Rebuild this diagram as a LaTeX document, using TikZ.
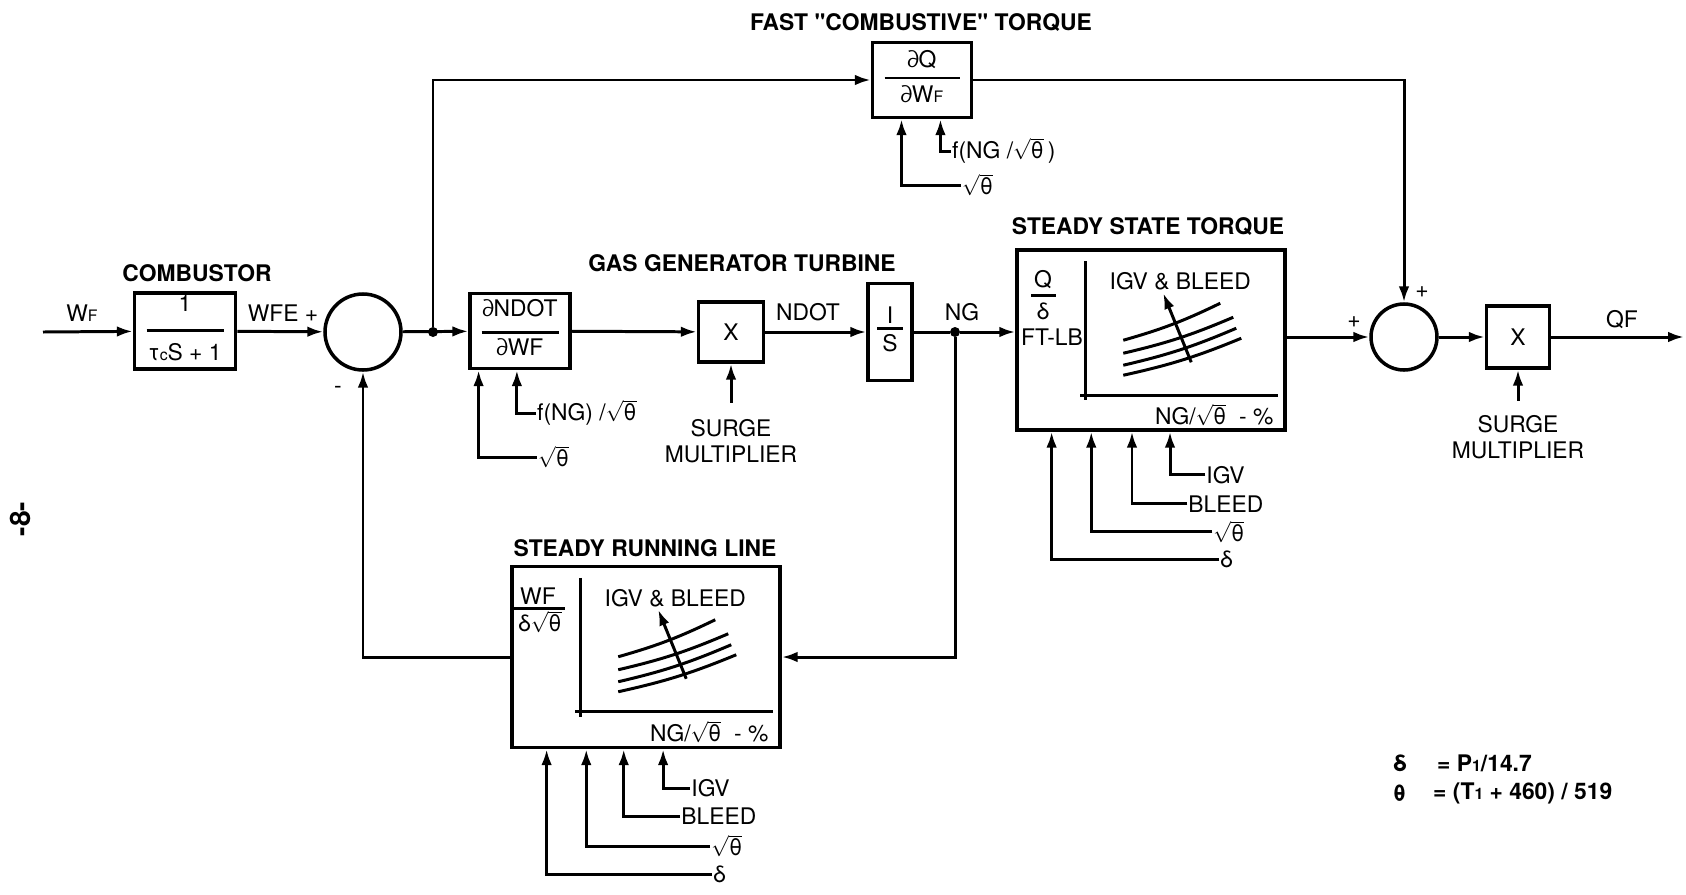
\documentclass[tikz,border=0pt]{standalone}
\usepackage{fontspec}
\setmainfont{TeX Gyre Heros}[Ligatures=TeXOff]
\usetikzlibrary{arrows.meta,calc}
\newcommand\sqth{$\sqrt{\mbox{θ}}$}
\newcommand\sub[1]{{\fontsize{9}{9}\selectfont #1}}
\newcommand\blkfrac[5]{{\setlength\arrayrulewidth{1.4pt}%
  \begin{tabular}{@{}c@{}}\makebox[#1]{#4}\\[#2]\hline\noalign{\vskip #3}#5\end{tabular}}}
\tikzset{
  block/.style={
    draw,
    line width=2pt,
    inner sep=0pt
  },
  sumpoint/.style={
    draw,
    shape = circle,
    line width=2pt,
    inner sep=0pt
  },
  heading/.style={
    font=\fontsize{13}{14.5}\selectfont\bfseries
  },
  flow/.style={
    line width=1.7pt,
    -{Latex[length=9pt,width=6pt]}
  },
  wire/.style={
    line width=1.7pt
  },
  dot/.style={
    shape = circle,
    fill,
    inner sep=0pt,
    minimum size=2mm
  },
  inlabel/.style={
    anchor=west,
    inner sep=0.5pt
  },
  every picture/.style = {
    font=\fontsize{13}{14.5}\selectfont
  }
}
\begin{document}
\begin{tikzpicture}[x=0.2mm,y=-0.2mm]
    \useasboundingbox (0,0) rectangle (1686,894);
    % titles
    \node[heading] (combt) at (197,273) {COMBUSTOR};
    \node[heading] (ggt) at (742,263) {GAS GENERATOR TURBINE};
    \node[heading] (fastt) at (921,23) {FAST "COMBUSTIVE" TORQUE};
    \node[heading] (sstt) at (1148,227) {STEADY STATE TORQUE};
    \node[heading] (srlt) at (645,548) {STEADY RUNNING LINE};
    % forward path
    \coordinate (wf) at (43,332);
    \node[block,minimum width=20.2mm,minimum height=15.2mm] (comb) at (185,331)
        {\blkfrac{15.4mm}{5.7pt}{6.5pt}{1}{τ\sub{c}S + 1}};
    \node[sumpoint,minimum size=15.2mm] (sum1) at (363,332) {};
    \node[dot] (j1) at (433,332) {};
    \node[block,minimum width=20mm,minimum height=15mm] (ndot) at (520,331)
        {\blkfrac{15.4mm}{4pt}{2.5pt}{∂NDOT}{∂WF}};
    \node[block,minimum width=13mm,minimum height=12mm] (mul1) at (731,332) {X};
    \node[block,minimum width=8.8mm,minimum height=19.4mm] (integ) at (890,332)
        {\blkfrac{5.2mm}{-2pt}{2pt}{I}{S}};
    \node[dot] (ng) at (955,332) {};
    \node[block,minimum width=53.6mm,minimum height=36mm] (sst) at (1151,340) {};
    \node[sumpoint,minimum size=13.2mm] (sum2) at (1404,337) {};
    \node[block,minimum width=12.6mm,minimum height=12.4mm] (mul2) at (1518,337) {X};
    \coordinate (qf) at (1684,337);
    \node[block,minimum width=19.8mm,minimum height=15mm] (dq) at (922,80)
        {\blkfrac{15mm}{0.7pt}{3pt}{∂Q}{∂W\sub{F}}};
    \node[block,minimum width=53.6mm,minimum height=36.2mm] (srl) at (646,657) {};
    % signal labels
    \node (wflbl) at (82,313) {W\sub{F}};
    \node (wfelbl) at (283,313) {WFE +};
    \node (minus) at (338,390) {-};
    \node (ndotlbl) at (808,312) {NDOT};
    \node (nglbl) at (962,312) {NG};
    \node (plus1) at (1354,322) {+};
    \node (plus2) at (1422,292) {+};
    \node (qflbl) at (1622,320) {QF};
    \node[align=center] (surge1) at (731,441) {SURGE\\MULTIPLIER};
    \node[align=center] (surge2) at (1518,437) {SURGE\\MULTIPLIER};
    % connectors
    \draw[flow] (wf) -- (comb);
    \draw[flow] (comb) -- (sum1);
    \draw[flow] (sum1) -- (ndot);
    \draw[flow] (j1) |- (dq);
    \draw[flow] (dq) -| (sum2);
    \draw[flow] (ndot) -- (mul1);
    \draw[flow] (mul1) -- (integ);
    \draw[wire] (integ) -- (ng);
    \draw[flow] (ng) -- (ng -| sst.west);
    \draw[flow] (ng) |- (srl.east);
    \draw[flow] (srl.west) -| (sum1);
    \draw[flow] (sst.east |- sum2) -- (sum2);
    \draw[flow] (sum2) -- (mul2);
    \draw[flow] (mul2) -- (qf);
    \draw[flow] ([yshift=6pt]surge1.north) -- (mul1);
    \draw[flow] ([yshift=5pt]surge2.north) -- (mul2);
    % side inputs
    \node[inlabel] (ndfng) at (536,413) {f(NG) /\sqth};
    \node[inlabel] (ndsq) at (537,457) {\sqth};
    \draw[flow] (ndfng.west) -| ($(ndot.south west)!0.47!(ndot.south east)$);
    \draw[flow] (ndsq.west) -| ($(ndot.south west)!0.1!(ndot.south east)$);
    \node[inlabel] (dqfng) at (951,151) {f(NG /\sqth\,)};
    \node[inlabel] (dqsq) at (961,185) {\sqth};
    \draw[flow] (dqfng.west) -| ($(dq.south west)!0.68!(dq.south east)$);
    \draw[flow] (dqsq.west) -| ($(dq.south west)!0.3!(dq.south east)$);
    \foreach \f/\dy/\dx/\txt [count=\i] in {0.57/43/190/IGV,0.43/72/172/BLEED,0.28/100/197/\sqth,0.134/128/204/δ}{
        \node[inlabel] (sstin\i) at ($(sst.south west)+(\dx,\dy)$) {\txt};
        \draw[flow] (sstin\i.west) -| ($(sst.south west)!\f!(sst.south east)$);
    }
    \foreach \f/\dy/\dx/\txt [count=\i] in {0.563/39/180/IGV,0.418/67/170/BLEED,0.28/97/200/\sqth,0.134/125/202/δ}{
        \node[inlabel] (srlin\i) at ($(srl.south west)+(\dx,\dy)$) {\txt};
        \draw[flow] (srlin\i.west) -| ($(srl.south west)!\f!(srl.south east)$);
    }
    % maps inside the two blocks
    \foreach \b in {sst,srl}{
        \begin{scope}[shift={(\b.north west)}]
            \draw[wire] (70,13) -- (70,152);
            \draw[wire] (65,147) -- (263,147);
            \foreach \ya/\yb/\xb in {92/55/205,105/69/218,117/80/221,127/90/226}
                \draw[wire] (108,\ya) to[bend right=5] (\xb,\yb);
            \draw[flow] (176,114) -- (148,45);
            \node (\b-igv) at (165,33) {IGV \& BLEED};
            \node (\b-ax) at (199,167) {NG/\sqth\ \ - \%};
        \end{scope}
    }
    \node (sstq) at (1043,280) {Q};
    \draw[wire] (1031,295) -- (1056,295);
    \node (sstd) at (1043,311) {δ};
    \node (sstft) at (1052,337) {FT-LB};
    \node[inner sep=1pt] (srlwf) at (538,596) {WF};
    \draw[wire] (512,608) -- (565,608);
    \node[inner sep=1pt] (srlds) at (540,622) {δ\sqth};
    % legend
    \node[inlabel,heading] (lgd) at (1392,763) {δ};
    \node[inlabel,heading] (lgdv) at (1436,763) {= P\sub{1}/14.7};
    \node[inlabel,heading] (lgt) at (1392,793) {θ};
    \node[inlabel,heading] (lgtv) at (1432,793) {= (T\sub{1} + 460) / 519};
    \node[rotate=90,font=\bfseries\fontsize{16}{16}\selectfont] (pgno) at (20,519) {-8-};
\end{tikzpicture}
\end{document}
